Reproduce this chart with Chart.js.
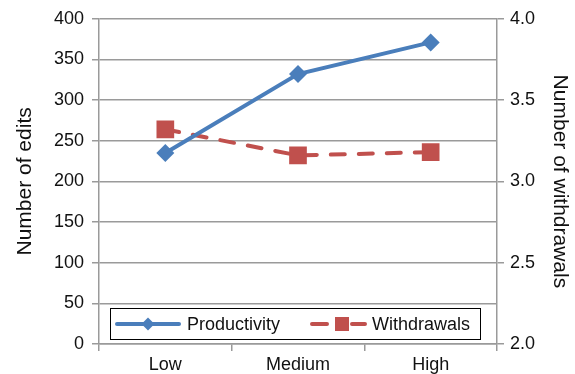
<!DOCTYPE html>
<html>
<head>
<meta charset="utf-8">
<script src="https://cdn.jsdelivr.net/npm/chart.js@4/dist/chart.umd.min.js"></script>
<style>
  html, body { margin: 0; padding: 0; background: #ffffff; }
  #wrap { width: 575px; height: 374px; position: relative; }
</style>
</head>
<body>
<div id="wrap"><canvas id="chart" width="575" height="374"></canvas></div>
<script>
// Editor activity level categories
const categories = ['Low', 'Medium', 'High'];
// Mean number of edits per group (left axis)
const productivity = [235, 332, 371];
// Mean number of withdrawals per group (right axis)
const withdrawals = [3.32, 3.16, 3.18];
// Axis ranges
const editsRange = { min: 0, max: 400, step: 50 };
const withdrawalsRange = { min: 2.0, max: 4.0, step: 0.5 };

const BLUE = '#4a7ebb';
const RED = '#c0504d';
const GRID = '#9a9a9a';
const TEXT = '#111111';
const FONT = "'Liberation Sans', Arial, Helvetica, sans-serif";

// Legend box drawn inside the plot area, near the bottom
const insideLegend = {
  id: 'insideLegend',
  afterDatasetsDraw(chart) {
    const ctx = chart.ctx;
    const ds = chart.data.datasets;
    const box = { x: 110.5, y: 308.5, w: 370, h: 31 };
    const cy = box.y + box.h / 2;
    ctx.save();
    ctx.fillStyle = '#ffffff';
    ctx.fillRect(box.x, box.y, box.w, box.h);
    ctx.strokeStyle = '#000000';
    ctx.lineWidth = 1;
    ctx.strokeRect(box.x, box.y, box.w, box.h);

    // Productivity sample: solid line + diamond
    ctx.strokeStyle = ds[0].borderColor;
    ctx.lineWidth = 4;
    ctx.lineCap = 'round';
    ctx.beginPath();
    ctx.moveTo(117, cy);
    ctx.lineTo(179, cy);
    ctx.stroke();
    ctx.fillStyle = ds[0].pointBackgroundColor;
    ctx.beginPath();
    ctx.moveTo(148, cy - 6.5);
    ctx.lineTo(154.5, cy);
    ctx.lineTo(148, cy + 6.5);
    ctx.lineTo(141.5, cy);
    ctx.closePath();
    ctx.fill();

    // Withdrawals sample: dashed line + square
    ctx.strokeStyle = ds[1].borderColor;
    ctx.beginPath();
    ctx.moveTo(312, cy);
    ctx.lineTo(327, cy);
    ctx.moveTo(352, cy);
    ctx.lineTo(365, cy);
    ctx.stroke();
    ctx.fillStyle = ds[1].pointBackgroundColor;
    ctx.fillRect(335, cy - 7, 14, 14);

    ctx.fillStyle = TEXT;
    ctx.font = '18px ' + FONT;
    ctx.textBaseline = 'middle';
    ctx.textAlign = 'left';
    ctx.fillText(ds[0].label, 187, cy + 1);
    ctx.fillText(ds[1].label, 372, cy + 1);
    ctx.restore();
  }
};

new Chart(document.getElementById('chart'), {
  type: 'line',
  data: {
    labels: categories,
    datasets: [
      {
        label: 'Productivity',
        data: productivity,
        yAxisID: 'yEdits',
        borderColor: BLUE,
        backgroundColor: BLUE,
        pointBackgroundColor: BLUE,
        pointBorderColor: BLUE,
        borderWidth: 4,
        pointStyle: 'rectRot',
        pointRadius: 9,
        pointBorderWidth: 0,
        tension: 0
      },
      {
        label: 'Withdrawals',
        data: withdrawals,
        yAxisID: 'yWithdrawals',
        borderColor: RED,
        backgroundColor: RED,
        pointBackgroundColor: RED,
        pointBorderColor: RED,
        borderWidth: 4,
        borderDash: [14, 14],
        borderCapStyle: 'round',
        pointStyle: 'rect',
        pointRadius: 12.5,
        pointBorderWidth: 0,
        tension: 0
      }
    ]
  },
  options: {
    responsive: false,
    animation: false,
    layout: { padding: { top: 17, left: 0, right: 0, bottom: 0 } },
    plugins: {
      legend: { display: false },
      tooltip: { enabled: false }
    },
    scales: {
      x: {
        type: 'category',
        offset: true,
        grid: {
          offset: true,
          drawOnChartArea: false,
          drawTicks: true,
          tickLength: 7,
          color: GRID,
          lineWidth: 1.5
        },
        border: { display: true, color: GRID, width: 1.5 },
        ticks: {
          color: TEXT,
          font: { family: FONT, size: 18 },
          padding: 3,
          maxRotation: 0
        },
        afterFit(scale) { scale.height = 30; }
      },
      yEdits: {
        type: 'linear',
        position: 'left',
        min: editsRange.min,
        max: editsRange.max,
        ticks: {
          stepSize: editsRange.step,
          color: TEXT,
          font: { family: FONT, size: 18 },
          padding: 8
        },
        grid: {
          color: GRID,
          lineWidth: 1.5,
          tickLength: 7
        },
        border: { display: true, color: GRID, width: 1.5 },
        title: {
          display: true,
          text: 'Number of edits',
          color: TEXT,
          font: { family: FONT, size: 21 },
          padding: { top: 13, bottom: 0 }
        },
        afterFit(scale) { scale.width = 99; }
      },
      yWithdrawals: {
        type: 'linear',
        position: 'right',
        min: withdrawalsRange.min,
        max: withdrawalsRange.max,
        ticks: {
          stepSize: withdrawalsRange.step,
          color: TEXT,
          font: { family: FONT, size: 18 },
          padding: 6,
          callback: (v) => Number(v).toFixed(1)
        },
        grid: {
          drawOnChartArea: false,
          color: GRID,
          lineWidth: 1.5,
          tickLength: 7
        },
        border: { display: true, color: GRID, width: 1.5 },
        title: {
          display: true,
          text: 'Number of withdrawals',
          color: TEXT,
          font: { family: FONT, size: 21 },
          padding: { top: 3, bottom: 0 }
        },
        afterFit(scale) { scale.width = 78; }
      }
    }
  },
  plugins: [insideLegend]
});
</script>
</body>
</html>
